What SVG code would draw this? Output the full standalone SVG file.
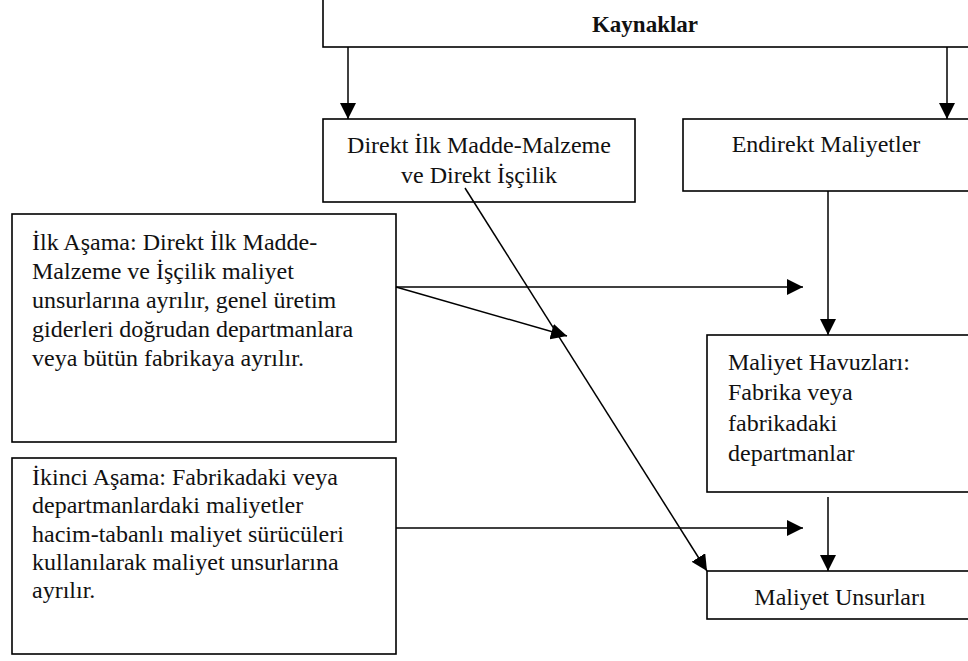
<svg xmlns="http://www.w3.org/2000/svg" width="968" height="661" viewBox="0 0 968 661">
  <style>
    .box { fill: #ffffff; stroke: #000000; stroke-width: 1.6; }
    .txt { font-family: "Liberation Serif", "Times New Roman", serif; font-size: 24px; fill: #111111; }
    .ctr { text-anchor: middle; }
    .bold { font-weight: bold; font-size: 23px; }
    .conn { fill: none; stroke: #000000; stroke-width: 1.5; marker-end: url(#head); }
  </style>
  <defs>
    <marker id="head" viewBox="0 0 16 16" refX="16" refY="8" markerWidth="16" markerHeight="16" markerUnits="userSpaceOnUse" orient="auto">
      <path d="M0,0 L16,8 L0,16 Z" fill="#000000"/>
    </marker>
  </defs>
  <rect width="968" height="661" fill="#ffffff"/>

  <g id="kaynaklar">
    <rect class="box" x="323" y="-1" width="660" height="48"/>
    <text class="txt ctr bold" x="645" y="32">Kaynaklar</text>
  </g>

  <g id="direkt">
    <rect class="box" x="323" y="119" width="312" height="83"/>
    <text class="txt ctr" x="479" y="153">Direkt İlk Madde-Malzeme</text>
    <text class="txt ctr" x="479" y="183">ve Direkt İşçilik</text>
  </g>

  <g id="endirekt">
    <rect class="box" x="683" y="119" width="300" height="72"/>
    <text class="txt ctr" x="826" y="152">Endirekt Maliyetler</text>
  </g>

  <g id="ilk-asama">
    <rect class="box" x="12" y="214" width="384" height="228"/>
    <text class="txt" x="32" y="250">İlk Aşama: Direkt İlk Madde-</text>
    <text class="txt" x="32" y="279">Malzeme ve İşçilik maliyet</text>
    <text class="txt" x="32" y="308">unsurlarına ayrılır, genel üretim</text>
    <text class="txt" x="32" y="337">giderleri doğrudan departmanlara</text>
    <text class="txt" x="32" y="366">veya bütün fabrikaya ayrılır.</text>
  </g>

  <g id="havuzlar">
    <rect class="box" x="707" y="335" width="276" height="157"/>
    <text class="txt" x="728" y="370">Maliyet Havuzları:</text>
    <text class="txt" x="728" y="400">Fabrika veya</text>
    <text class="txt" x="728" y="431">fabrikadaki</text>
    <text class="txt" x="728" y="461">departmanlar</text>
  </g>

  <g id="ikinci-asama">
    <rect class="box" x="12" y="458" width="384" height="196"/>
    <text class="txt" x="32" y="485">İkinci Aşama: Fabrikadaki veya</text>
    <text class="txt" x="32" y="513">departmanlardaki maliyetler</text>
    <text class="txt" x="32" y="542">hacim-tabanlı maliyet sürücüleri</text>
    <text class="txt" x="32" y="570">kullanılarak maliyet unsurlarına</text>
    <text class="txt" x="32" y="598">ayrılır.</text>
  </g>

  <g id="unsurlar">
    <rect class="box" x="707" y="571" width="276" height="48"/>
    <text class="txt ctr" x="840" y="605">Maliyet Unsurları</text>
  </g>

  <g id="connectors">
    <line class="conn" x1="348" y1="47" x2="348" y2="119"/>
    <line class="conn" x1="947" y1="47" x2="947" y2="119"/>
    <line class="conn" x1="828" y1="191" x2="828" y2="335"/>
    <line class="conn" x1="396" y1="287" x2="803" y2="287"/>
    <line class="conn" x1="396" y1="287" x2="567" y2="336"/>
    <line class="conn" x1="465" y1="188" x2="707" y2="571"/>
    <line class="conn" x1="828" y1="497" x2="828" y2="571"/>
    <line class="conn" x1="396" y1="528" x2="803" y2="528"/>
  </g>
</svg>
